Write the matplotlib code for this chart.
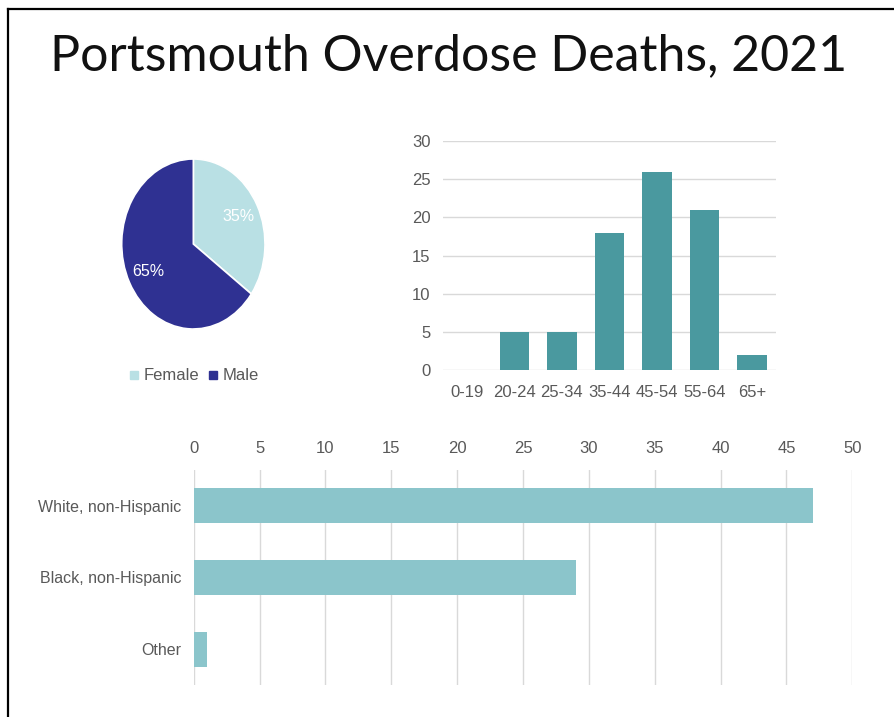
import matplotlib
matplotlib.use("Agg")
import matplotlib.pyplot as plt
from matplotlib.lines import Line2D

# ---- data ----
sex_labels = ["Female", "Male"]
sex_share = [35, 65]

age_groups = ["0-19", "20-24", "25-34", "35-44", "45-54", "55-64", "65+"]
age_deaths = [0, 5, 5, 18, 26, 21, 2]

race_groups = ["White, non-Hispanic", "Black, non-Hispanic", "Other"]
race_deaths = [47, 29, 1]

# ---- style ----
W, H = 894, 717
gray_txt = "#595959"
grid_col = "#d9d9d9"
female_col = "#b9e0e4"
male_col = "#2f3192"
age_col = "#4a999f"
race_col = "#8bc5cb"
plt.rcParams["font.family"] = ["Liberation Sans", "DejaVu Sans"]


def box(l, t, r, b):
    # pixel box -> figure fraction rect
    return [l / W, 1 - b / H, (r - l) / W, (b - t) / H]


fig = plt.figure(figsize=(W / 100, H / 100), dpi=100)

# frame lines (top and left only)
fig.add_artist(Line2D([8 / W, 1], [1 - 9 / H, 1 - 9 / H], color="black", lw=1.6, transform=fig.transFigure))
fig.add_artist(Line2D([8 / W, 8 / W], [0, 1 - 9 / H], color="black", lw=1.6, transform=fig.transFigure))

fig.text(449 / W, 1 - 70 / H, "Portsmouth Overdose Deaths, 2021", ha="center", va="baseline",
         fontsize=36, family=["Lato", "DejaVu Sans"], fontweight="normal", color="#111111")

# ---- pie ----
ax_pie = fig.add_axes(box(121.7, 159, 265, 329))
wedges, _, autotexts = ax_pie.pie(sex_share, colors=[female_col, male_col], startangle=90, counterclock=False,
                                  autopct="%d%%", pctdistance=0.7,
                                  wedgeprops=dict(edgecolor="white", linewidth=1.2),
                                  textprops=dict(color="white", fontsize=11.5))
ax_pie.set_aspect("auto")
ax_pie.set_xlim(-1, 1)
ax_pie.set_ylim(-1, 1)
handles = [Line2D([], [], marker="s", linestyle="", markersize=6, color=c) for c in [female_col, male_col]]
fig.legend(handles, sex_labels, loc="center", bbox_to_anchor=(194 / W, 1 - 376 / H), ncol=2, frameon=False,
           handlelength=0.6, handletextpad=0.3, columnspacing=0.5, prop=dict(size=12),
           labelcolor=gray_txt)

# ---- age bars ----
ax_age = fig.add_axes(box(443, 141, 776, 370))
ax_age.bar(range(len(age_groups)), age_deaths, width=0.62, color=age_col, zorder=3)
ax_age.set_xlim(-0.5, len(age_groups) - 0.5)
ax_age.set_ylim(0, 30)
ax_age.set_yticks(range(0, 31, 5))
ax_age.set_xticks(range(len(age_groups)))
ax_age.set_xticklabels(age_groups)
ax_age.grid(axis="y", color=grid_col, linewidth=1, zorder=0)
for s in ax_age.spines.values():
    s.set_visible(False)
ax_age.tick_params(axis="x", length=0, pad=11, labelsize=12, labelcolor=gray_txt)
ax_age.tick_params(axis="y", length=0, pad=9, labelsize=12, labelcolor=gray_txt)

# ---- race bars ----
ax_race = fig.add_axes(box(193.7, 470, 852.3, 685))
ax_race.barh(range(len(race_groups)), race_deaths, height=0.49, color=race_col, zorder=3)
ax_race.set_ylim(len(race_groups) - 0.5, -0.5)
ax_race.set_xlim(0, 50)
ax_race.set_xticks(range(0, 51, 5))
ax_race.set_yticks(range(len(race_groups)))
ax_race.set_yticklabels(race_groups)
ax_race.grid(axis="x", color=grid_col, linewidth=1, zorder=0)
for s in ax_race.spines.values():
    s.set_visible(False)
ax_race.tick_params(axis="x", length=0, pad=10, labelsize=12, labelcolor=gray_txt,
                    top=True, labeltop=True, bottom=False, labelbottom=False)
ax_race.tick_params(axis="y", length=0, pad=9, labelsize=11.5, labelcolor=gray_txt)

fig.savefig("out.png", dpi=100)
